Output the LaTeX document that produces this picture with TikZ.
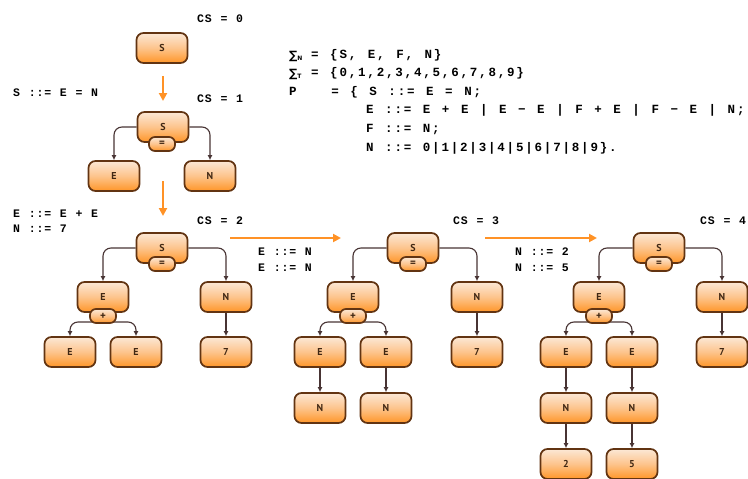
\documentclass[tikz,border=0pt]{standalone}
\usepackage{fontspec}
\usepackage{graphicx}
\usetikzlibrary{arrows.meta,calc,backgrounds}
\setmainfont{Liberation Serif}
\newfontfamily\lblfont{Liberation Mono}[LetterSpace=7.4, WordSpace=1.123]
\newfontfamily\gramfont{Liberation Mono}[LetterSpace=14.5, WordSpace=1.24]
\newfontfamily\boxfont{PT Sans}
\newfontfamily\symfont{DejaVu Sans}
\definecolor{boxborder}{RGB}{98,52,18}
\definecolor{boxtop}{RGB}{252,232,214}
\definecolor{boxmid}{RGB}{253,196,140}
\definecolor{boxbot}{RGB}{255,150,40}
\definecolor{boxtext}{RGB}{65,40,20}
\definecolor{conncol}{RGB}{72,52,52}
\definecolor{arrorange}{RGB}{255,146,38}
\tikzset{
  box/.style={draw=boxborder, line width=1.7pt, rounded corners=7pt,
    minimum width=51pt, minimum height=30pt, inner sep=0pt,
    top color=boxtop, bottom color=boxbot, middle color=boxmid,
    font=\boxfont\bfseries\fontsize{10}{10}\selectfont, text=boxtext},
  subbox/.style={box, minimum width=26pt, minimum height=14pt, rounded corners=6pt,
    font=\boxfont\bfseries\fontsize{11}{11}\selectfont},
  conn/.style={draw=conncol, line width=1.1pt, rounded corners=8pt,
    -{Latex[length=5pt,width=5pt]}},
  stagearrow/.style={draw=arrorange, line width=2.2pt,
    -{Triangle[length=8pt,width=8pt]}},
  lbl/.style={anchor=west, inner sep=0pt, text=black,
    font=\lblfont\bfseries\fontsize{11.5}{12}\selectfont},
  gram/.style={anchor=west, inner sep=0pt, text=black,
    font=\gramfont\bfseries\fontsize{12.5}{13}\selectfont},
}
\begin{document}
\begin{tikzpicture}[x=1pt,y=-1pt]
\useasboundingbox (0,0) rectangle (748,479);
% ---------- labels ----------
\node[lbl] (cs0) at (197,19) {CS = 0};
\node[lbl] (cs1) at (197,99) {CS = 1};
\node[lbl] (cs2) at (197,221) {CS = 2};
\node[lbl] (cs3) at (453,221) {CS = 3};
\node[lbl] (cs4) at (700,221) {CS = 4};
\node[lbl] (r1) at (13,93) {S ::= E = N};
\node[lbl] (r2a) at (13,214) {E ::= E + E};
\node[lbl] (r2b) at (13,229) {N ::= 7};
\node[lbl] (r3a) at (258,252) {E ::= N};
\node[lbl] (r3b) at (258,268) {E ::= N};
\node[lbl] (r4a) at (515,252) {N ::= 2};
\node[lbl] (r4b) at (515,268) {N ::= 5};
% ---------- grammar ----------
\node[anchor=west, inner sep=0pt] (sig1) at (289,56) {\symfont\bfseries\fontsize{11.5}{12}\selectfont ∑\raisebox{-1pt}{\fontsize{6}{6}\selectfont N}};
\node[gram] (g1) at (311,55) {= \{S, E, F, N\}};
\node[anchor=west, inner sep=0pt] (sig2) at (289,74) {\symfont\bfseries\fontsize{11.5}{12}\selectfont ∑\raisebox{-1pt}{\fontsize{6}{6}\selectfont T}};
\node[gram] (g2) at (311,73) {= \{0,1,2,3,4,5,6,7,8,9\}};
\node[gram] (g3) at (289,92) {P\ \ \ = \{ S ::= E = N;};
\node[gram] (g4) at (366,110) {E ::= E + E | E − E | F + E | F − E | N;};
\node[gram] (g5) at (366,129) {F ::= N;};
\node[gram] (g6) at (366,148) {N ::= 0|1|2|3|4|5|6|7|8|9\}.};
% ---------- tree 0 ----------
\node[box] (s0) at (162,48) {S};
% ---------- tree 1 ----------
\node[box] (s1) at (163,127) {S};
\node[subbox] (eq1) at (162,144) {=};
\node[box] (e1) at (114,176) {E};
\node[box] (n1) at (210,176) {N};
% ---------- tree 2 ----------
\node[box] (s2) at (162,248) {S};
\node[subbox] (eq2) at (162,264) {=};
\node[box] (e2) at (103,297) {E};
\node[subbox] (p2) at (103,316) {+};
\node[box] (n2) at (226,297) {N};
\node[box] (e2a) at (70,352) {E};
\node[box] (e2b) at (136,352) {E};
\node[box] (d2) at (226,352) {7};
% ---------- tree 3 ----------
\node[box] (s3) at (413,248) {S};
\node[subbox] (eq3) at (413,264) {=};
\node[box] (e3) at (353,297) {E};
\node[subbox] (p3) at (353,316) {+};
\node[box] (n3) at (477,297) {N};
\node[box] (e3a) at (320,352) {E};
\node[box] (e3b) at (386,352) {E};
\node[box] (d3) at (477,352) {7};
\node[box] (n3a) at (320,408) {N};
\node[box] (n3b) at (386,408) {N};
% ---------- tree 4 ----------
\node[box] (s4) at (659,248) {S};
\node[subbox] (eq4) at (659,264) {=};
\node[box] (e4) at (599,297) {E};
\node[subbox] (p4) at (599,316) {+};
\node[box] (n4) at (722,297) {N};
\node[box] (e4a) at (566,352) {E};
\node[box] (e4b) at (632,352) {E};
\node[box] (d4) at (722,352) {7};
\node[box] (n4a) at (566,408) {N};
\node[box] (n4b) at (632,408) {N};
\node[box] (t4a) at (566,464) {2};
\node[box] (t4b) at (632,464) {5};
% ---------- stage arrows ----------
\coordinate (a1s) at (163,76);  \coordinate (a1e) at (163,101);
\coordinate (a2s) at (163,181); \coordinate (a2e) at (163,216);
\coordinate (h1s) at (230,238); \coordinate (h1e) at (341,238);
\coordinate (h2s) at (485,238); \coordinate (h2e) at (597,238);
\draw[stagearrow] (a1s) -- (a1e);
\draw[stagearrow] (a2s) -- (a2e);
\draw[stagearrow] (h1s) -- (h1e);
\draw[stagearrow] (h2s) -- (h2e);
% ---------- connectors ----------
\begin{scope}[on background layer]
\draw[conn] (s1.west) -| (e1.north);
\draw[conn] (s1.east) -| (n1.north);
\foreach \t in {2,3,4}{
  \draw[conn] (s\t.west) -| (e\t.north);
  \draw[conn] (s\t.east) -| (n\t.north);
  \draw[conn] ($(p\t.center)+(0,6)$) -| (e\t a.north);
  \draw[conn] ($(p\t.center)+(0,6)$) -| (e\t b.north);
  \draw[conn] (n\t.south) -- (d\t.north);
}
\draw[conn] (e3a.south) -- (n3a.north);
\draw[conn] (e3b.south) -- (n3b.north);
\draw[conn] (e4a.south) -- (n4a.north);
\draw[conn] (e4b.south) -- (n4b.north);
\draw[conn] (n4a.south) -- (t4a.north);
\draw[conn] (n4b.south) -- (t4b.north);
\end{scope}
\end{tikzpicture}
\end{document}
